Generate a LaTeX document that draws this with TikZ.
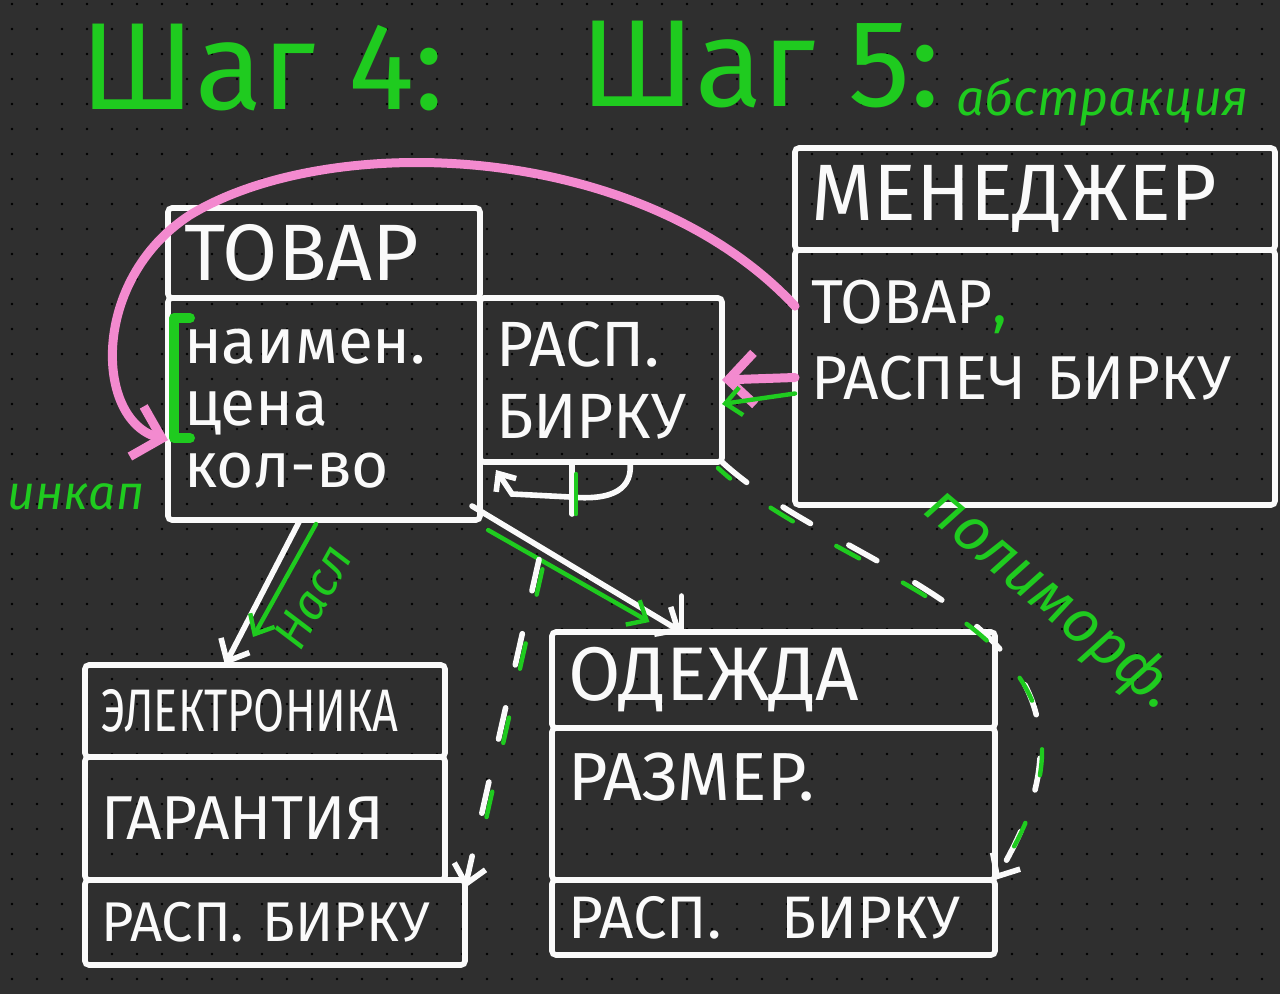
\documentclass[tikz,border=0pt]{standalone}
\usepackage{fontspec}
\setmainfont{Fira Sans}
\newfontfamily\narrowhand[FakeStretch=0.75]{Fira Sans}
\usetikzlibrary{arrows.meta,calc}
\definecolor{board}{HTML}{2F2F2F}
\definecolor{pin}{HTML}{5E5E5E}
\definecolor{chalk}{HTML}{FAFAFA}
\definecolor{marker}{HTML}{1FCB1F}
\definecolor{rose}{HTML}{F38ACF}

\begin{document}
\begin{tikzpicture}[
  x=0.5pt, y=-0.5pt,
  cls/.style={draw=chalk, line width=2.8pt, rounded corners=2pt,
              anchor=north west, align=left, text=chalk,
              inner xsep=8pt, inner ysep=0pt, outer sep=0pt},
  hd/.style={font=\fontsize{40}{44}\selectfont},
  bd/.style={font=\fontsize{32}{31}\selectfont},
  wire/.style={draw=chalk, line width=2.8pt, line cap=round},
  inherit/.style={wire, -{Straight Barb[length=9pt,width=16pt]}},
  hint/.style={draw=marker, line width=2.2pt, line cap=round},
  hintarrow/.style={hint, -{Straight Barb[length=8pt,width=14pt]}},
  poly/.style={wire, dash pattern=on 16pt off 22pt,
               -{Straight Barb[length=9pt,width=16pt]}},
  polyhint/.style={hint, dash pattern=on 13pt off 25pt},
  call/.style={draw=rose, line width=4.5pt, line cap=round,
               -{Straight Barb[length=13pt,width=26pt]}},
  lbl/.style={text=marker, font=\itshape\fontsize{28}{30}\selectfont,
              inner sep=2pt},
  title/.style={text=marker, font=\fontsize{62}{64}\selectfont,
                anchor=west, inner sep=0pt},
]
\fill[board] (0,0) rectangle (1280,994);
\useasboundingbox (0,0) rectangle (1280,994);
\foreach \gx in {12,37,...,1280} {
  \foreach \gy in {4,29,...,994} {
    \fill[pin] (\gx,\gy) circle[radius=0.7pt];
  }
}

\node[title] (step4) at (80,68) {Шаг 4:};
\node[title] (step5) at (580,65) {Шаг 5:};
\node[lbl, anchor=base west, font=\itshape\fontsize{25}{28}\selectfont]
  (abstr) at (952,116) {абстракция};

% classes
\node[cls, hd, text width=140pt, minimum height=45pt] (tovar) at (168,208) {ТОВАР};
\node[cls, bd, text width=140pt, minimum height=111pt] (tovarbody)
  at (tovar.south west) {наимен.\\цена\\кол-во};
\node[cls, font=\fontsize{32}{36}\selectfont, text width=105pt, minimum height=82pt]
  (rasp) at (tovarbody.north east) {РАСП.\\БИРКУ};

\node[cls, hd, text width=224pt, minimum height=51pt] (mgr) at (795,148) {МЕНЕДЖЕР};
\node[cls, font=\fontsize{31}{38}\selectfont, text width=224pt, minimum height=127.5pt]
  (mgrbody) at (mgr.south west) {ТОВАР{\color{marker},}\\РАСПЕЧ БИРКУ\\\mbox{}};

\node[cls, font=\narrowhand\fontsize{30}{32}\selectfont, text width=164pt,
  minimum height=46pt] (elec) at (85,665) {ЭЛЕКТРОНИКА};
\node[cls, font=\fontsize{31}{34}\selectfont, text width=164pt, minimum height=61.5pt]
  (elecbody) at (elec.south west) {ГАРАНТИЯ};
\node[cls, font=\fontsize{28}{30}\selectfont, text width=174pt, minimum height=42.5pt]
  (elecprint) at (elecbody.south west) {РАСП. БИРКУ};

\node[cls, font=\fontsize{38}{40}\selectfont, text width=205.5pt, minimum height=48pt]
  (cloth) at (552,632) {ОДЕЖДА};
\node[cls, font=\fontsize{34}{36}\selectfont, text width=205.5pt,
  text height=36pt, text depth=40pt] (clothbody) at (cloth.south west) {РАЗМЕР.};
\node[cls, font=\fontsize{30}{32}\selectfont, text width=205.5pt, minimum height=37.5pt]
  (clothprint) at (clothbody.south west) {РАСП.\quad БИРКУ};

% encapsulation
\draw[hint, line width=5pt, line join=round]
  ([xshift=11pt,yshift=-10pt]tovarbody.north west)
  -| ([xshift=3pt,yshift=-70pt]tovarbody.north west) -- ++(8pt,0pt);
\node[lbl, font=\itshape\fontsize{24}{26}\selectfont] (encap) at (76,497) {инкап};

\coordinate (tagfoot) at (570,497);
\draw[wire, -{Straight Barb[length=7pt,width=12pt]}] (tagfoot) -- (512,494)
  -- ([xshift=8pt,yshift=-4pt]rasp.south west);
\draw[wire] ([xshift=46pt]rasp.south west) -- ++(0pt,-26pt);
\draw[wire] (tagfoot) .. controls (625,502) and (632,480) .. ([xshift=75pt]rasp.south west);
\draw[hint] ([xshift=48pt,yshift=-6pt]rasp.south west) -- ++(0pt,-20pt);

% calls from the manager
\draw[call] ($(mgrbody.north west)!0.22!(mgrbody.south west)$)
  .. controls (640,140) and (330,130) .. (190,215)
  .. controls (90,280) and (95,420) .. ($(tovarbody.north west)!0.64!(tovarbody.south west)$);
\draw[call] (mgrbody.west) -- (rasp.east);
\draw[hintarrow] ([yshift=-8pt]mgrbody.west) -- ([yshift=-12pt]rasp.east);

% inheritance
\draw[inherit] ([xshift=-12pt]tovarbody.south) -- ([xshift=-20pt]elec.north);
\draw[hintarrow] ([xshift=-4pt,yshift=-2pt]tovarbody.south)
  -- node[lbl, sloped, below=5pt, font=\itshape\fontsize{24}{26}\selectfont] (inhlbl) {Насл}
  ([xshift=-6pt,yshift=14pt]elec.north);
\draw[inherit] ([xshift=-4pt,yshift=7pt]tovarbody.south east) -- ([xshift=-46pt]cloth.north);
\draw[wire] ([xshift=-46pt]cloth.north) -- ++(0pt,18pt);
\draw[hintarrow] ([xshift=4pt,yshift=-5pt]tovarbody.south east)
  -- ([xshift=-62pt,yshift=5pt]cloth.north);

% polymorphism
\draw[poly, shorten <=50pt] ([xshift=-20pt]rasp.south) -- ([yshift=-4pt]elecprint.north east);
\draw[polyhint, shorten <=56pt, shorten >=14pt, transform canvas={shift={(3pt,1pt)}}]
  ([xshift=-20pt]rasp.south) -- ([yshift=-4pt]elecprint.north east);
\draw[poly] (rasp.south east) .. controls (850,580) and (1150,620) .. (clothprint.north east);
\draw[polyhint, dash phase=5pt, shorten >=14pt, transform canvas={shift={(-2pt,-3pt)}}]
  (rasp.south east) .. controls (850,580) and (1150,620) .. (clothprint.north east);
\node[lbl, rotate=-40, font=\itshape\fontsize{30}{32}\selectfont] (polylbl)
  at (1050,600) {полиморф.};
\end{tikzpicture}
\end{document}
